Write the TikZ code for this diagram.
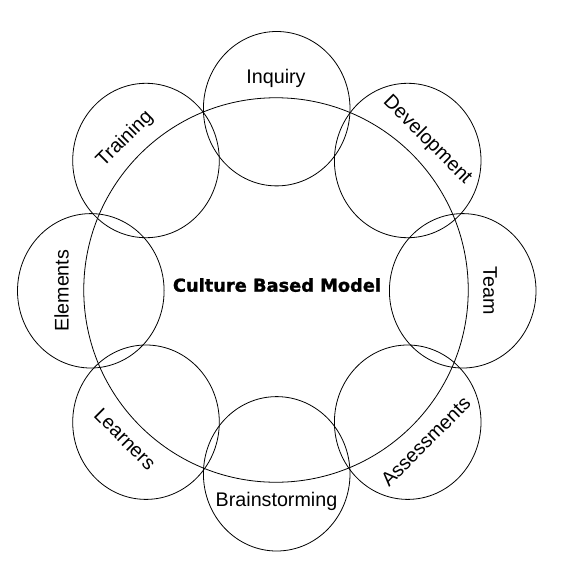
\documentclass[tikz,border=0pt]{standalone}
\usepackage{fontspec}
\setmainfont{Liberation Sans}
\newfontfamily\titlefont{DejaVu Sans}[BoldFeatures={FakeBold=1.2}]
\usetikzlibrary{shapes.geometric}
\begin{document}
\begin{tikzpicture}[x=1pt,y=-1pt,
  ring/.style={draw=black,line width=0.8pt,ellipse,minimum width=146.6pt,minimum height=154.4pt,inner sep=0pt},
  bigring/.style={draw=black,line width=0.8pt,circle,minimum size=384.5pt,inner sep=0pt},
  lbl/.style={inner sep=0pt,font=\fontsize{19.7}{22}\selectfont},
  title/.style={inner sep=0pt,font=\titlefont\bfseries\fontsize{17.8}{20}\selectfont}]
\useasboundingbox (0,0) rectangle (575,573);
\node[bigring] (big) at (276,290) {};
\node[ring] (inq) at (276.7,108.7) {};
\node[ring] (dev) at (407.7,160.5) {};
\node[ring] (team) at (462.7,290.8) {};
\node[ring] (ass) at (407.7,422.2) {};
\node[ring] (brain) at (276.7,473.8) {};
\node[ring] (lear) at (146,422.2) {};
\node[ring] (elem) at (90.8,290.8) {};
\node[ring] (train) at (146,160.5) {};
\node[title,anchor=base] (cbm) at (277,291.7) {Culture Based Model};
\node[lbl,anchor=base] (tinq) at (276,83.3) {Inquiry};
\node[lbl,anchor=base] (tbrain) at (276.5,506.7) {Brainstorming};
\node[lbl,rotate=90] (telem) at (61.7,290.8) {Elements};
\node[lbl,rotate=-90] (tteam) at (490,291) {Team};
\node[lbl,rotate=45] (ttrain) at (125,139) {Training};
\node[lbl,rotate=-45] (tdev) at (427.3,140) {Development};
\node[lbl,rotate=-45] (tlear) at (125,439) {Learners};
\node[lbl,rotate=45] (tass) at (425.7,441.7) {Assessments};
\end{tikzpicture}
\end{document}
